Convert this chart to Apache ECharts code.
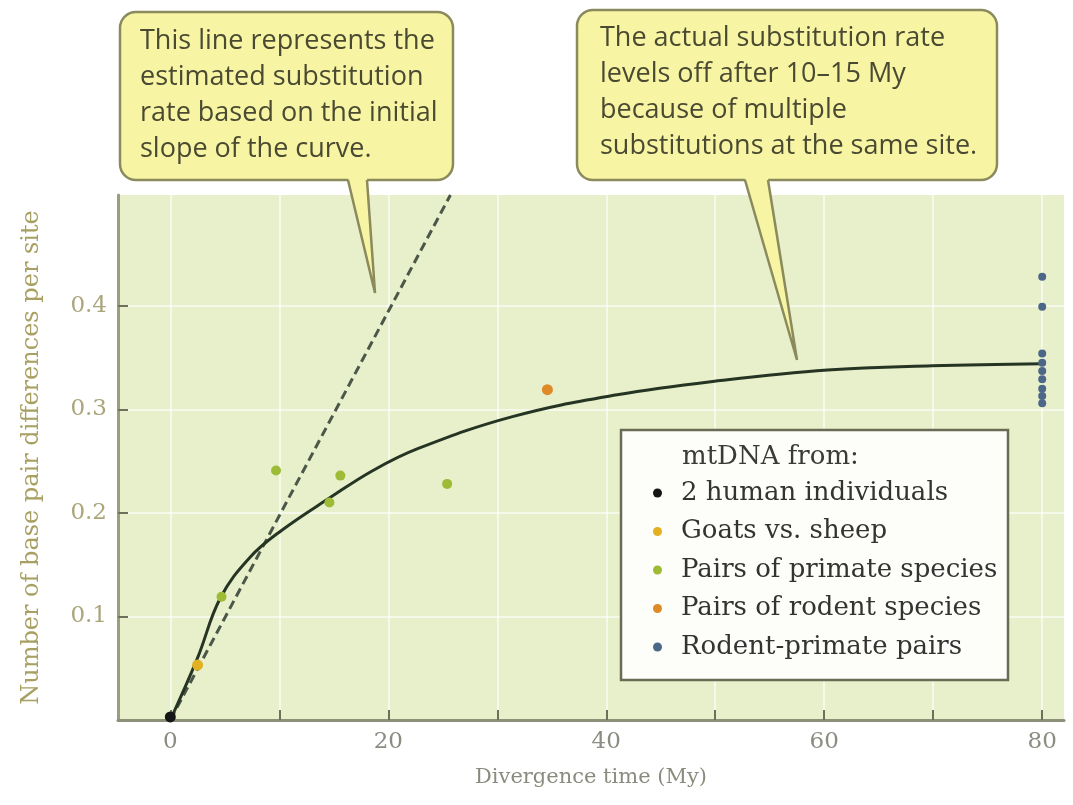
<!DOCTYPE html>
<html><head><meta charset="utf-8">
<script src="https://cdn.jsdelivr.net/npm/echarts@6/dist/echarts.min.js"></script>
<style>html,body{margin:0;padding:0;background:#fff}#c{width:1073px;height:805px}</style>
</head><body><div id="c"></div>
<script>
// ---- data ----
const humanPairs = [[0, 0.003]];
const goatSheep = [[2.5, 0.053]];
const primatePairs = [[4.7, 0.119], [9.7, 0.241], [14.6, 0.210], [15.6, 0.236], [25.4, 0.228]];
const rodentPairs = [[34.6, 0.319]];
const rodentPrimate = [[80, 0.428], [80, 0.399], [80, 0.354], [80, 0.345], [80, 0.337], [80, 0.329], [80, 0.320], [80, 0.313], [80, 0.306]];
const curveX = [0, 2.5, 4.6, 7.3, 10.2, 14.7, 18.6, 22.7, 31.4, 41, 50.7, 60.3, 69.9, 80];
const curveY = [0, 0.060, 0.118, 0.157, 0.183, 0.215, 0.241, 0.262, 0.293, 0.314, 0.328, 0.338, 0.342, 0.344];
const slopeX = [0, 25.7];
const slopeY = [0, 0.507];
const legendNames = ['2 human individuals', 'Goats vs. sheep', 'Pairs of primate species', 'Pairs of rodent species', 'Rodent-primate pairs'];
const xTickValues = [0, 10, 20, 30, 40, 50, 60, 70, 80];
const xLabelValues = [0, 20, 40, 60, 80];
const yTickValues = [0.1, 0.2, 0.3, 0.4];
const yLabelValues = [0.1, 0.2, 0.3, 0.4];
const legendTitle = 'mtDNA from:';
const note1 = ['This line represents the', 'estimated substitution', 'rate based on the initial', 'slope of the curve.'];
const note2 = ['The actual substitution rate', 'levels off after 10\u201315 My', 'because of multiple', 'substitutions at the same site.'];

const zip = (a, b) => a.map((v, i) => [v, b[i]]);
const serif = '"DejaVu Serif", serif';
const sans = '"Open Sans", sans-serif';
const colors = ['#151515', '#e2b020', '#9dbb35', '#de8a26', '#4d6787'];

const chart = echarts.init(document.getElementById('c'), null, {renderer: 'canvas'});

function callout(box, base, tip, lines, tx, ty, lh) {
  const fill = '#f7f4a3', stroke = '#8a8a5c';
  const els = [
    {type: 'rect', z: 20, shape: {x: box[0], y: box[1], width: box[2], height: box[3], r: 16},
     style: {fill: fill, stroke: stroke, lineWidth: 2.5}},
    {type: 'polygon', z: 21, shape: {points: [[base[0], base[1] - 2], [base[2], base[1] - 2], tip]},
     style: {fill: fill}},
    {type: 'polyline', z: 22, shape: {points: [[base[0], base[1]], tip, [base[2], base[1]]]},
     style: {stroke: stroke, lineWidth: 2.5, fill: null}}
  ];
  lines.forEach((t, i) => els.push({type: 'text', z: 23,
    style: {text: t, x: tx, y: ty + i * lh, fill: '#4a4a32', font: '27px ' + sans, verticalAlign: 'middle'}}));
  return els;
}

const option = {
  animation: false,
  backgroundColor: '#ffffff',
  grid: {left: 118, right: 9, top: 195, bottom: 85, show: true, backgroundColor: '#e7f0cb', borderWidth: 0},
  xAxis: {
    type: 'value', min: -4.8, max: 82, minInterval: 10, maxInterval: 10,
    name: 'Divergence time (My)', nameLocation: 'middle', nameGap: 47,
    nameTextStyle: {fontFamily: serif, fontSize: 21, color: '#8a8a7e'},
    axisLine: {show: true, onZero: false, lineStyle: {color: '#8e8f78', width: 3}},
    axisTick: {show: true, inside: true, length: 10, customValues: xTickValues, lineStyle: {color: '#6f705c', width: 2}},
    axisLabel: {customValues: xLabelValues, margin: 11, fontFamily: serif, fontSize: 23, color: '#8c8c84'},
    splitLine: {show: true, lineStyle: {color: 'rgba(255,255,255,0.6)', width: 2}}
  },
  yAxis: {
    type: 'value', min: 0, max: 0.507, interval: 0.1,
    name: 'Number of base pair differences per site', nameLocation: 'middle', nameGap: 74,
    nameTextStyle: {fontFamily: serif, fontSize: 24, color: '#a7a062'},
    axisLine: {show: true, onZero: false, lineStyle: {color: '#9c9c80', width: 3}},
    axisTick: {show: true, inside: true, length: 10, customValues: yTickValues, lineStyle: {color: '#6f705c', width: 2}},
    axisLabel: {customValues: yLabelValues, margin: 11, fontFamily: serif, fontSize: 23, color: '#aaa57a',
      formatter: v => v.toFixed(1)},
    splitLine: {show: true, lineStyle: {color: 'rgba(255,255,255,0.6)', width: 2}}
  },
  legend: {
    data: legendNames, orient: 'vertical', left: 653, top: 478, padding: 0, itemGap: 8.5,
    icon: 'circle', itemWidth: 9, itemHeight: 9, z: 10, selectedMode: false,
    textStyle: {fontFamily: serif, fontSize: 26, color: '#333333', lineHeight: 30, padding: [0, 0, 0, 14]}
  },
  graphic: [
    {type: 'rect', z: 5, shape: {x: 621, y: 430, width: 387, height: 250},
     style: {fill: '#fdfdf9', stroke: '#6a6b55', lineWidth: 2.5}},
    {type: 'text', z: 6, style: {text: legendTitle, x: 682, y: 457, fill: '#3a3a3a', font: '26px ' + serif, verticalAlign: 'middle'}},
    ...callout([120, 12, 333, 168], [348, 180, 367], [375, 293], note1, 140, 41, 36),
    ...callout([577, 10, 420, 170], [745, 180, 768], [797, 360], note2, 600, 38, 36)
  ],
  series: [
    {type: 'line', name: 'initial slope', data: zip(slopeX, slopeY), symbol: 'none', z: 3,
     lineStyle: {color: '#4b5748', width: 3, type: [9, 5]}},
    {type: 'line', name: 'actual rate', data: zip(curveX, curveY), symbol: 'none', smooth: 0.4, z: 4,
     lineStyle: {color: '#263523', width: 3}},
    {type: 'scatter', name: legendNames[0], data: humanPairs, symbolSize: 11, itemStyle: {color: colors[0], opacity: 1}, z: 6},
    {type: 'scatter', name: legendNames[1], data: goatSheep, symbolSize: 11, itemStyle: {color: colors[1], opacity: 1}, z: 6},
    {type: 'scatter', name: legendNames[2], data: primatePairs, symbolSize: 10, itemStyle: {color: colors[2], opacity: 1}, z: 6},
    {type: 'scatter', name: legendNames[3], data: rodentPairs, symbolSize: 11, itemStyle: {color: colors[3], opacity: 1}, z: 6},
    {type: 'scatter', name: legendNames[4], data: rodentPrimate, symbolSize: 8, itemStyle: {color: colors[4], opacity: 1}, z: 6}
  ]
};
chart.setOption(option);
</script></body></html>
